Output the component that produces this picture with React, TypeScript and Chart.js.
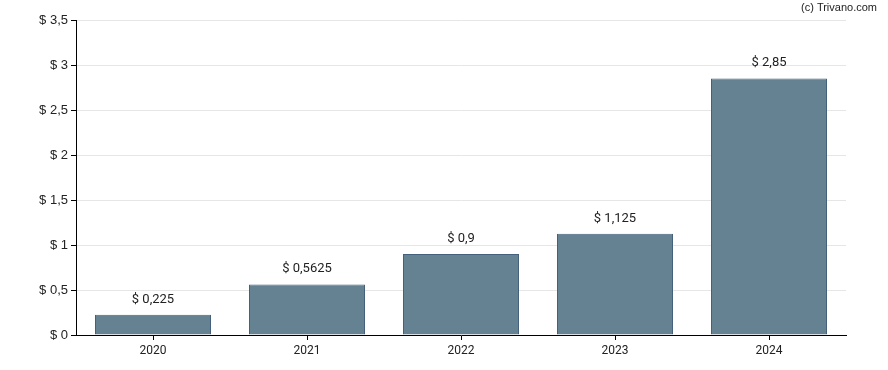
import React, { useEffect, useRef } from "react";
import { Chart, registerables } from "chart.js";

Chart.register(...registerables);

const categories = ["2020", "2021", "2022", "2023", "2024"];
const values = [0.225, 0.5625, 0.9, 1.125, 2.85];
const valueLabels = ["$ 0,225", "$ 0,5625", "$ 0,9", "$ 1,125", "$ 2,85"];
const yTicks = [0, 0.5, 1, 1.5, 2, 2.5, 3, 3.5];

const fmt = (v: number) => "$ " + String(v).replace(".", ",");

export default function App() {
  const ref = useRef<HTMLCanvasElement | null>(null);
  useEffect(() => {
    document.body.style.margin = "0";
    const labelPlugin = {
      id: "barLabels",
      afterDatasetsDraw(chart: any) {
        const ctx = chart.ctx;
        const meta = chart.getDatasetMeta(0);
        ctx.save();
        ctx.font = "13px Roboto";
        ctx.fillStyle = "#222";
        ctx.textAlign = "center";
        ctx.textBaseline = "bottom";
        meta.data.forEach((el: any, i: number) => {
          ctx.fillText(valueLabels[i], el.x, el.y - 9);
        });
        ctx.font = "11px 'Liberation Sans', Arial";
        ctx.textAlign = "right";
        ctx.textBaseline = "middle";
        ctx.fillText("(c) Trivano.com", 877, 8);
        ctx.restore();
      },
    };
    const chart = new Chart(ref.current!, {
      type: "bar",
      data: {
        labels: categories,
        datasets: [
          {
            data: values,
            backgroundColor: "#658293",
            borderColor: "#44607a",
            borderWidth: 1,
            inflateAmount: 0,
            categoryPercentage: 116 / 154,
            barPercentage: 1,
          },
        ],
      },
      options: {
        animation: false,
        responsive: false,
        layout: { padding: { top: 20, right: 42, left: 0, bottom: 0 } },
        plugins: { legend: { display: false }, tooltip: { enabled: false } },
        scales: {
          x: {
            grid: { drawOnChartArea: false, drawTicks: true, tickLength: 5, color: "#000", offset: false },
            border: { color: "#000", width: 1 },
            ticks: { font: { family: "Roboto", size: 12 }, color: "#222", padding: 4 },
            afterFit: (s: any) => { s.height = 35; },
          },
          y: {
            min: 0,
            max: 3.5,
            afterBuildTicks: (s: any) => { s.ticks = yTicks.map((v) => ({ value: v })); },
            grid: { color: "#e6e6e6", tickLength: 5, drawTicks: true, tickColor: "#000" },
            border: { color: "#000", width: 1 },
            ticks: {
              font: { family: "'Liberation Sans', Arial", size: 13 },
              color: "#222",
              padding: 3,
              callback: (v: any) => fmt(Number(v)),
            },
            afterFit: (s: any) => { s.width = 76; },
          },
        },
      },
      plugins: [labelPlugin],
    });
    return () => chart.destroy();
  }, []);
  return (
    <div style={{ width: 888, height: 370 }}>
      <canvas ref={ref} width={888} height={370} />
    </div>
  );
}
